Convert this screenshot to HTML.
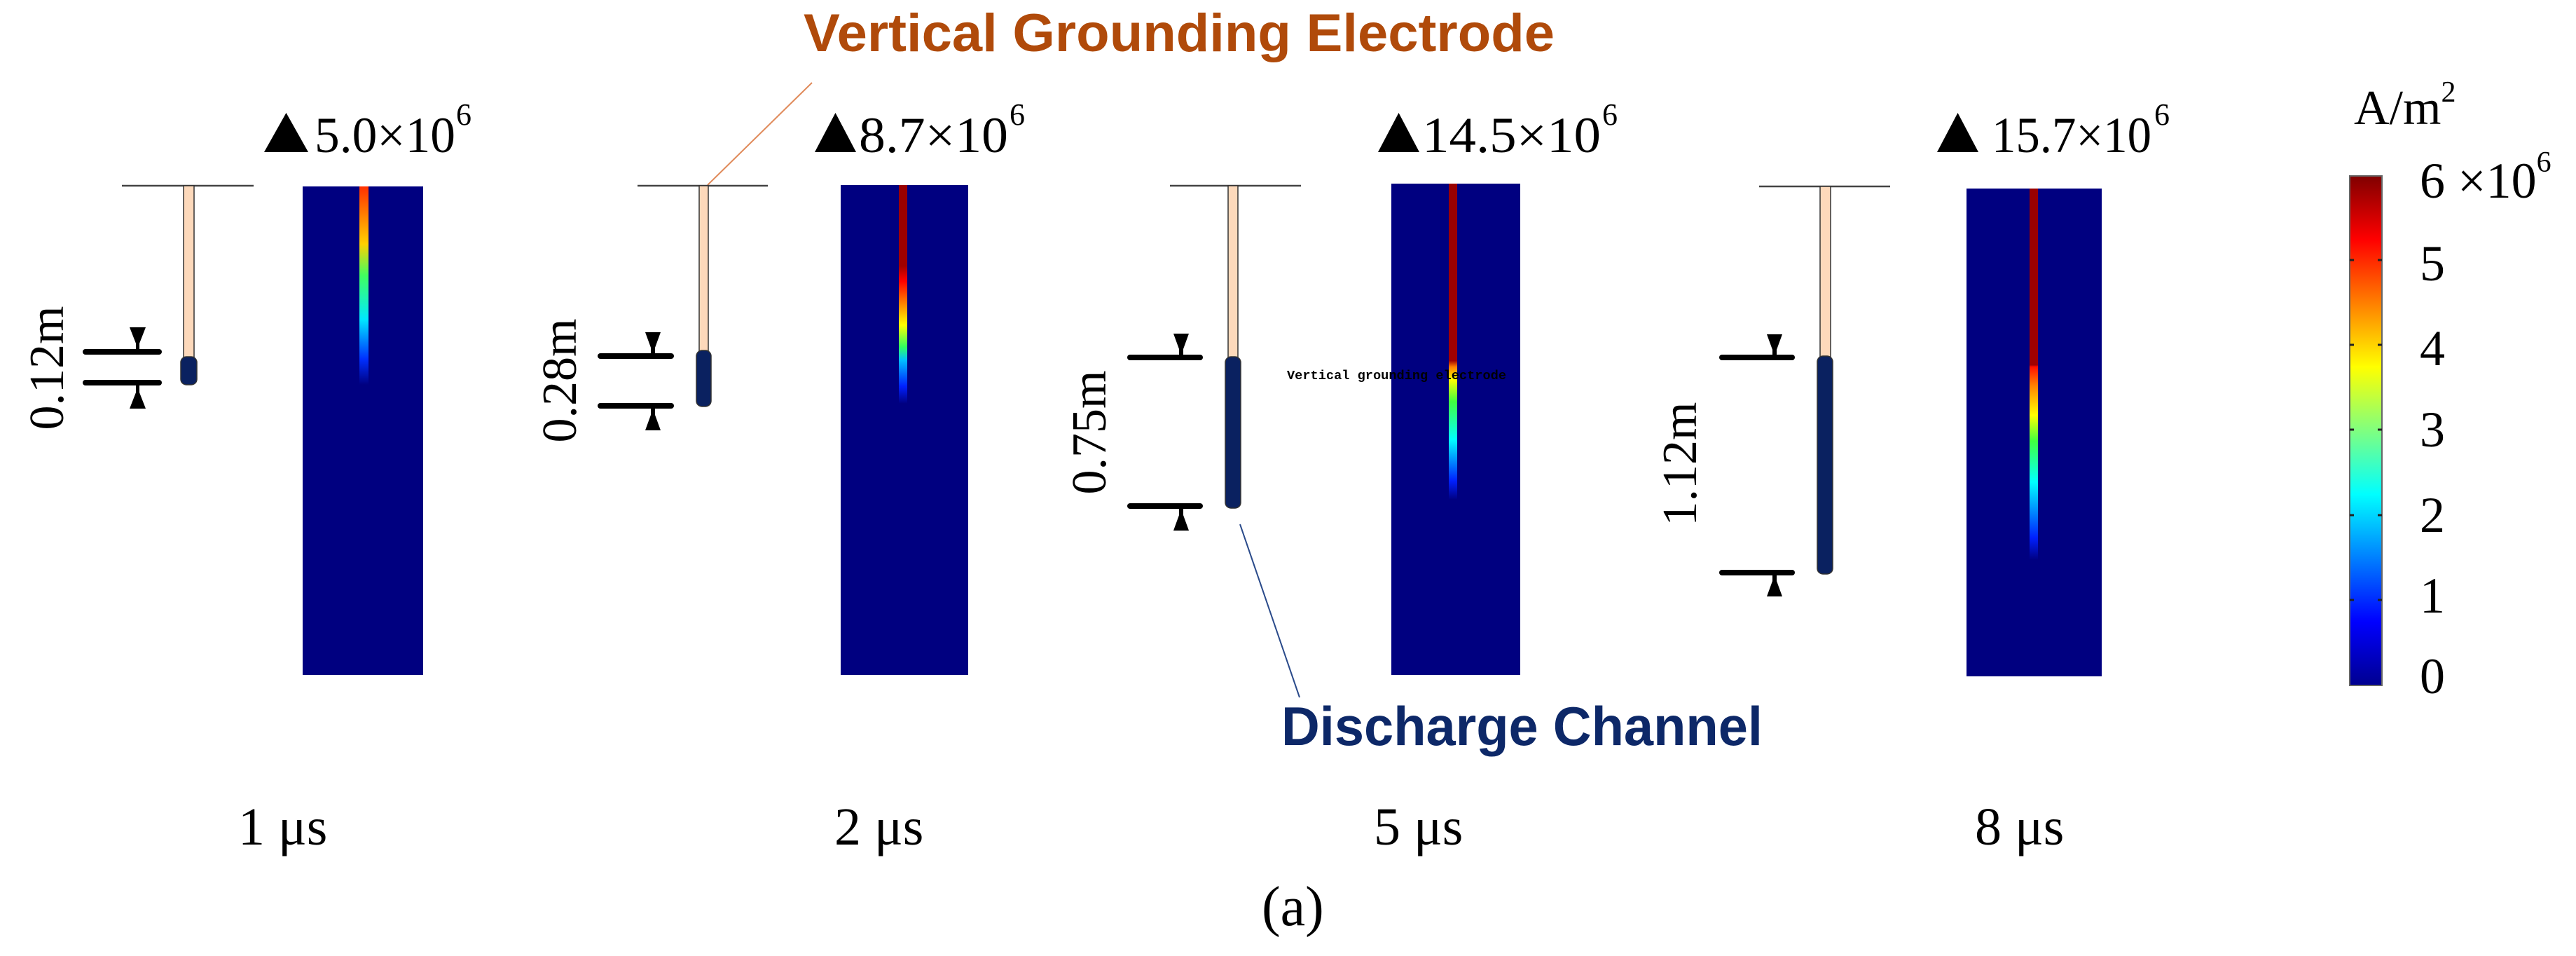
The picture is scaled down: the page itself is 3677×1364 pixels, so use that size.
<!DOCTYPE html>
<html><head><meta charset="utf-8"><style>
html,body{margin:0;padding:0;background:#fff;}
svg{display:block}
</style></head><body>
<svg width="3677" height="1364" viewBox="0 0 3677 1364" xmlns="http://www.w3.org/2000/svg">
<defs>
<linearGradient id="cb" x1="0" y1="0" x2="0" y2="1">
<stop offset="0" stop-color="#800000"/><stop offset="0.125" stop-color="#ff0000"/>
<stop offset="0.375" stop-color="#ffff00"/><stop offset="0.625" stop-color="#00ffff"/>
<stop offset="0.875" stop-color="#0000ff"/><stop offset="1" stop-color="#00008f"/>
</linearGradient>
<linearGradient id="s1" gradientUnits="userSpaceOnUse" x1="0" y1="266" x2="0" y2="549">
<stop offset="0" stop-color="#ff3000"/><stop offset="0.29" stop-color="#ffd000"/>
<stop offset="0.45" stop-color="#40ff60"/><stop offset="0.67" stop-color="#00e8ff"/>
<stop offset="0.87" stop-color="#0030ff"/><stop offset="1" stop-color="#000080"/>
</linearGradient>
<linearGradient id="s2" gradientUnits="userSpaceOnUse" x1="0" y1="264" x2="0" y2="576">
<stop offset="0" stop-color="#990000"/><stop offset="0.37" stop-color="#a00000"/>
<stop offset="0.44" stop-color="#ff0000"/><stop offset="0.54" stop-color="#ff8000"/>
<stop offset="0.64" stop-color="#ffff00"/><stop offset="0.74" stop-color="#30ff60"/>
<stop offset="0.80" stop-color="#00c0ff"/><stop offset="0.92" stop-color="#0020ff"/>
<stop offset="1" stop-color="#000080"/>
</linearGradient>
<linearGradient id="s3" gradientUnits="userSpaceOnUse" x1="0" y1="262" x2="0" y2="713">
<stop offset="0" stop-color="#990000"/><stop offset="0.56" stop-color="#a00000"/>
<stop offset="0.58" stop-color="#ff8000"/><stop offset="0.62" stop-color="#ffff00"/>
<stop offset="0.69" stop-color="#40ff40"/><stop offset="0.81" stop-color="#00ffff"/>
<stop offset="0.94" stop-color="#0020ff"/><stop offset="1" stop-color="#000080"/>
</linearGradient>
<linearGradient id="s4" gradientUnits="userSpaceOnUse" x1="0" y1="269" x2="0" y2="799">
<stop offset="0" stop-color="#990000"/><stop offset="0.475" stop-color="#a00000"/>
<stop offset="0.48" stop-color="#ff1000"/><stop offset="0.53" stop-color="#ff8000"/>
<stop offset="0.61" stop-color="#ffff00"/><stop offset="0.68" stop-color="#40ff40"/>
<stop offset="0.79" stop-color="#00ffff"/><stop offset="0.94" stop-color="#0020ff"/>
<stop offset="1" stop-color="#000080"/>
</linearGradient>
</defs>

<text x="1147" y="73" font-family="Liberation Sans, sans-serif" font-weight="bold" font-size="76" fill="#b04a0a" textLength="1072" lengthAdjust="spacingAndGlyphs">Vertical Grounding Electrode</text>
<line x1="1159" y1="118" x2="1010" y2="264" stroke="#e08a5a" stroke-width="2"/>

<text x="1829" y="1063" font-family="Liberation Sans, sans-serif" font-weight="bold" font-size="78" fill="#0d2868" textLength="687" lengthAdjust="spacingAndGlyphs">Discharge Channel</text>
<line x1="1770" y1="748" x2="1855" y2="995" stroke="#2a4a8a" stroke-width="2"/>

<g font-family="Liberation Serif, serif" fill="#000">
<polygon points="377,217 440,217 408.5,161" fill="#000"/>
<text x="449" y="217" font-size="72" textLength="201" lengthAdjust="spacingAndGlyphs">5.0×10</text>
<text x="651" y="178" font-size="44">6</text>

<polygon points="1163,217 1222,217 1192.5,161"/>
<text x="1226" y="217" font-size="72" textLength="213" lengthAdjust="spacingAndGlyphs">8.7×10</text>
<text x="1441" y="178" font-size="44">6</text>

<polygon points="1967,217 2026,217 1996.5,161"/>
<text x="2030" y="217" font-size="72" textLength="255" lengthAdjust="spacingAndGlyphs">14.5×10</text>
<text x="2287" y="178" font-size="44">6</text>

<polygon points="2765,217 2824,217 2794.5,161"/>
<text x="2843" y="217" font-size="72" textLength="228" lengthAdjust="spacingAndGlyphs">15.7×10</text>
<text x="3075" y="178" font-size="44">6</text>

<text x="340" y="1205" font-size="76">1 μs</text>
<text x="1191" y="1205" font-size="76">2 μs</text>
<text x="1961" y="1205" font-size="76">5 μs</text>
<text x="2819" y="1205" font-size="76">8 μs</text>
<text x="1801" y="1320" font-size="80">(a)</text>

<text transform="translate(90,525) rotate(-90)" text-anchor="middle" font-size="70">0.12m</text>
<text transform="translate(822,543) rotate(-90)" text-anchor="middle" font-size="70">0.28m</text>
<text transform="translate(1578,617) rotate(-90)" text-anchor="middle" font-size="70">0.75m</text>
<text transform="translate(2421,662) rotate(-90)" text-anchor="middle" font-size="70">1.12m</text>

<text x="3360" y="177" font-size="70">A/m<tspan font-size="42" dy="-32">2</tspan></text>
<text x="3454" y="282" font-size="72">6 ×10<tspan font-size="42" dy="-37">6</tspan></text>
<text x="3454" y="400" font-size="72">5</text>
<text x="3454" y="521" font-size="72">4</text>
<text x="3454" y="637" font-size="72">3</text>
<text x="3454" y="759" font-size="72">2</text>
<text x="3454" y="874" font-size="72">1</text>
<text x="3454" y="989" font-size="72">0</text>
</g>

<rect x="3354" y="251" width="46" height="727" fill="url(#cb)" stroke="#666" stroke-width="2"/>
<g stroke="#222" stroke-width="3">
<line x1="3354" y1="371" x2="3360" y2="371"/><line x1="3394" y1="371" x2="3400" y2="371"/>
<line x1="3354" y1="492" x2="3360" y2="492"/><line x1="3394" y1="492" x2="3400" y2="492"/>
<line x1="3354" y1="613" x2="3360" y2="613"/><line x1="3394" y1="613" x2="3400" y2="613"/>
<line x1="3354" y1="735" x2="3360" y2="735"/><line x1="3394" y1="735" x2="3400" y2="735"/>
<line x1="3354" y1="856" x2="3360" y2="856"/><line x1="3394" y1="856" x2="3400" y2="856"/>
</g>

<rect x="432" y="266" width="172" height="697" fill="#000080"/>
<rect x="513" y="266" width="13" height="283" fill="url(#s1)"/>
<rect x="1200" y="264" width="182" height="699" fill="#000080"/>
<rect x="1283" y="264" width="12" height="312" fill="url(#s2)"/>
<rect x="1986" y="262" width="184" height="701" fill="#000080"/>
<rect x="2068" y="262" width="12" height="451" fill="url(#s3)"/>
<rect x="2807" y="269" width="193" height="696" fill="#000080"/>
<rect x="2897" y="269" width="12" height="530" fill="url(#s4)"/>
<text x="1837" y="541" font-family="Liberation Mono, monospace" font-weight="bold" font-size="18" fill="#000" textLength="313" lengthAdjust="spacingAndGlyphs">Vertical grounding electrode</text>

<g stroke="#444" stroke-width="2.5">
<line x1="174" y1="265" x2="362" y2="265"/>
<line x1="910" y1="265" x2="1096" y2="265"/>
<line x1="1670" y1="265" x2="1857" y2="265"/>
<line x1="2511" y1="266" x2="2698" y2="266"/>
</g>

<g stroke="#333" stroke-width="1.5">
<rect x="262" y="265" width="15" height="247" fill="#fdd9bb"/>
<rect x="258" y="509" width="23" height="40" rx="8" fill="#0a2160"/>
<rect x="998" y="265" width="13" height="239" fill="#fdd9bb"/>
<rect x="994" y="500" width="21" height="80" rx="8" fill="#0a2160"/>
<rect x="1753" y="265" width="14" height="248" fill="#fdd9bb"/>
<rect x="1749" y="509" width="22" height="216" rx="8" fill="#0a2160"/>
<rect x="2598" y="266" width="15" height="246" fill="#fdd9bb"/>
<rect x="2594" y="508" width="22" height="311" rx="8" fill="#0a2160"/>
</g>

<g fill="#000">
<rect x="118" y="498" width="113" height="8" rx="4"/>
<rect x="118" y="542" width="113" height="8" rx="4"/>
<polygon points="185,467 208,467 199,490 199,498 194,498 194,490"/>
<polygon points="185,583 208,583 199,560 199,550 194,550 194,560"/>

<rect x="853" y="504" width="109" height="8" rx="4"/>
<rect x="853" y="575" width="109" height="8" rx="4"/>
<polygon points="921,474 943,474 935,496 935,504 929,504 929,496"/>
<polygon points="921,614 943,614 935,592 935,583 929,583 929,592"/>

<rect x="1609" y="506" width="108" height="8" rx="4"/>
<rect x="1609" y="718" width="108" height="8" rx="4"/>
<polygon points="1675,476 1697,476 1689,498 1689,506 1683,506 1683,498"/>
<polygon points="1675,757 1697,757 1689,735 1689,726 1683,726 1683,735"/>

<rect x="2454" y="506" width="108" height="8" rx="4"/>
<rect x="2454" y="813" width="108" height="8" rx="4"/>
<polygon points="2522,477 2544,477 2536,499 2536,506 2530,506 2530,499"/>
<polygon points="2522,851 2544,851 2536,829 2536,821 2530,821 2530,829"/>
</g>
</svg>
</body></html>
